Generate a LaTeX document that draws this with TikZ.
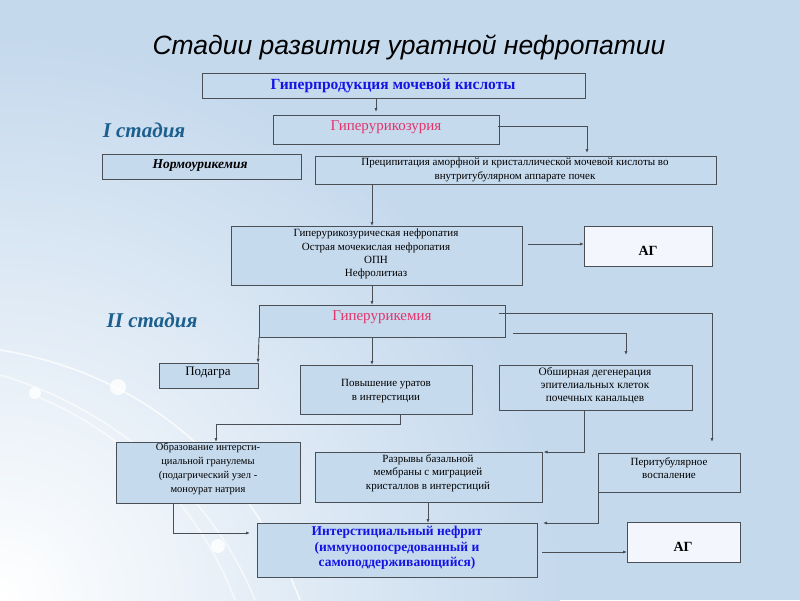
\documentclass[tikz,border=0pt]{standalone}
\usepackage{fontspec}
\setmainfont{Liberation Serif}
\newfontfamily\arialfont{Liberation Sans}
\usetikzlibrary{arrows.meta}
\definecolor{bg}{HTML}{C5D9ED}
\definecolor{boxfill}{HTML}{C6DAEE}
\definecolor{edgecol}{HTML}{4A4E55}
\definecolor{blu}{HTML}{1414E6}
\definecolor{crim}{HTML}{E3336B}
\definecolor{stagecol}{HTML}{1C5F8E}
\definecolor{agfill}{HTML}{F3F6FC}
\newcommand{\fs}[2]{\fontsize{#1}{#2}\selectfont}
\newcommand{\mkbox}[6][]{%
  \node[boxst,#1,minimum width={(#5)-(#3)},minimum height={(#6)-(#4)}] (#2) at ({((#3)+(#5))/2},{((#4)+(#6))/2}) {};}
\tikzset{
  boxst/.style={draw=edgecol, line width=0.9pt, fill=boxfill, inner sep=0pt, outer sep=0pt},
  agbox/.style={fill=agfill},
  txt/.style={inner sep=0pt, align=center, text=black},
  conn/.style={draw=edgecol, line width=0.9pt},
  arr/.style={conn, -{Latex[length=4pt,width=3.2pt]}},
  deco/.style={white, opacity=0.75, line width=1.6pt},
}
\begin{document}
\begin{tikzpicture}[x=1pt,y=-1pt]
% background
\fill[bg] (0,0) rectangle (800,600);
\begin{scope}
\clip (0,0) rectangle (800,600);
\shade[inner color=white, outer color=bg] (0,600) circle (560);
\draw[deco] (0,350) .. controls (150,375) and (250,470) .. (300,600);
\draw[deco, opacity=0.6] (0,375) .. controls (120,410) and (215,500) .. (255,600);
\draw[deco, opacity=0.6] (40,398) .. controls (140,440) and (205,520) .. (235,600);
\fill[white, opacity=0.8] (118,387) circle (8);
\fill[white, opacity=0.8] (35,393) circle (6);
\fill[white, opacity=0.8] (218,546) circle (7);
\end{scope}
\useasboundingbox (0,0) rectangle (800,600);

% title and stage labels
\node[txt, font=\arialfont\itshape\fs{26.5}{30}] (title) at (409,47) {Стадии развития уратной нефропатии};
\node[txt, text=stagecol, font=\bfseries\itshape\fs{21}{24}] (st1) at (144,130) {I стадия};
\node[txt, text=stagecol, font=\bfseries\itshape\fs{21}{24}] (st2) at (152,320) {II стадия};

% boxes
\mkbox{b1}{202}{73}{585}{98}
\mkbox{b2}{273}{115}{499}{144}
\mkbox{b3}{102}{154}{301}{179}
\mkbox{b4}{315}{156}{716}{184}
\mkbox{b5}{231}{226}{522}{285}
\mkbox[agbox]{ag1}{584}{226}{712}{266}
\mkbox{b6}{259}{305}{505}{337}
\mkbox{b7}{159}{363}{258}{388}
\mkbox{b8}{300}{365}{472}{414}
\mkbox{b9}{499}{365}{692}{410}
\mkbox{b10}{116}{442}{300}{503}
\mkbox{b11}{315}{452}{542}{502}
\mkbox{b12}{598}{453}{740}{492}
\mkbox{b13}{257}{523}{537}{577}
\mkbox[agbox]{ag2}{627}{522}{740}{562}

% texts
\node[txt, text=blu, font=\bfseries\fs{15.5}{17}] (t1) at (393,86) {Гиперпродукция мочевой кислоты};
\node[txt, text=crim, font=\fs{15}{17}] (t2) at (386,127) {Гиперурикозурия};
\node[txt, font=\bfseries\itshape\fs{13.5}{16}] (t3) at (200,166) {Нормоурикемия};
\node[txt, font=\fs{11}{13.5}] (t4) at (515,170) {Преципитация аморфной и кристаллической мочевой кислоты во\\внутритубулярном аппарате почек};
\node[txt, font=\fs{11}{13.3}] (t5) at (376,254) {Гиперурикозурическая нефропатия\\Острая мочекислая нефропатия\\ОПН\\Нефролитиаз};
\node[txt, font=\bfseries\fs{14}{16}] (a1) at (648,251) {АГ};
\node[txt, text=crim, font=\fs{15}{17}] (t6) at (382,317) {Гиперурикемия};
\node[txt, font=\fs{13}{15}] (t7) at (208,373) {Подагра};
\node[txt, font=\fs{11}{13.5}] (t8) at (386,391) {Повышение уратов\\в интерстиции};
\node[txt, font=\fs{11.3}{13}] (t9) at (595,386) {Обширная дегенерация\\эпителиальных клеток\\почечных канальцев};
\node[txt, font=\fs{10.5}{13.9}] (t10) at (208,469) {Образование интерсти-\\циальной гранулемы\\(подагрический узел -\\моноурат натрия};
\node[txt, font=\fs{11}{13.5}] (t11) at (428,473) {Разрывы базальной\\мембраны с миграцией\\кристаллов в интерстиций};
\node[txt, font=\fs{11}{13.5}] (t12) at (669,468) {Перитубулярное\\воспаление};
\node[txt, text=blu, font=\bfseries\fs{13.5}{15.5}] (t13) at (397,548) {Интерстициальный нефрит\\(иммуноопосредованный и\\самоподдерживающийся)};
\node[txt, font=\bfseries\fs{14}{16}] (a2) at (683,547) {АГ};

% connector x positions
\coordinate (x376) at (376,0);
\coordinate (x372) at (372,0);
\coordinate (x587) at (587,0);
\coordinate (x712) at (712,0);
\coordinate (x626) at (626,0);
\coordinate (x400) at (400,0);
\coordinate (x216) at (216,0);
\coordinate (x584) at (584,0);
\coordinate (x173) at (173,0);
\coordinate (x428) at (428,0);
\coordinate (y126) at (0,126);
\coordinate (y244) at (0,244);
\coordinate (y313) at (0,313);
\coordinate (y333) at (0,333);
\coordinate (y424) at (0,424);
\coordinate (y452) at (0,452);
\coordinate (y533) at (0,533);
\coordinate (y523) at (0,523);
\coordinate (y552) at (0,552);

% connectors
\draw[arr, shorten >=3pt] (b1.south -| x376) -- (b2.north -| x376);
\draw[arr, shorten >=3pt] ([xshift=-1pt]b2.east |- y126) -| (b4.north -| x587);
\draw[arr] (b4.south -| x372) -- (b5.north -| x372);
\draw[arr] ([xshift=6pt]b5.east |- y244) -- (ag1.west |- y244);
\draw[arr] (b5.south -| x372) -- (b6.north -| x372);
\draw[arr, shorten >=11pt] ([xshift=-6pt]b6.east |- y313) -| (b12.north -| x712);
\draw[arr, shorten >=10pt] ([xshift=8pt]b6.east |- y333) -| (b9.north -| x626);
\draw[arr] (b6.south west) -- (b7.north east);
\draw[arr] (b6.south -| x372) -- (b8.north -| x372);
\draw[arr] (b8.south -| x400) -- (x400 |- y424) -| (b10.north -| x216);
\draw[arr, shorten >=0.5pt] (b9.south -| x584) -- (x584 |- y452) -- ([xshift=1pt]b11.east |- y452);
\draw[arr, shorten >=7pt] (b10.south -| x173) |- (b13.west |- y533);
\draw[arr] (b11.south -| x428) -- (b13.north -| x428);
\draw[arr] (b12.south west) -- (b12.south west |- y523) -- ([xshift=6pt]b13.east |- y523);
\draw[arr] ([xshift=5pt]b13.east |- y552) -- (ag2.west |- y552);
\end{tikzpicture}
\end{document}
